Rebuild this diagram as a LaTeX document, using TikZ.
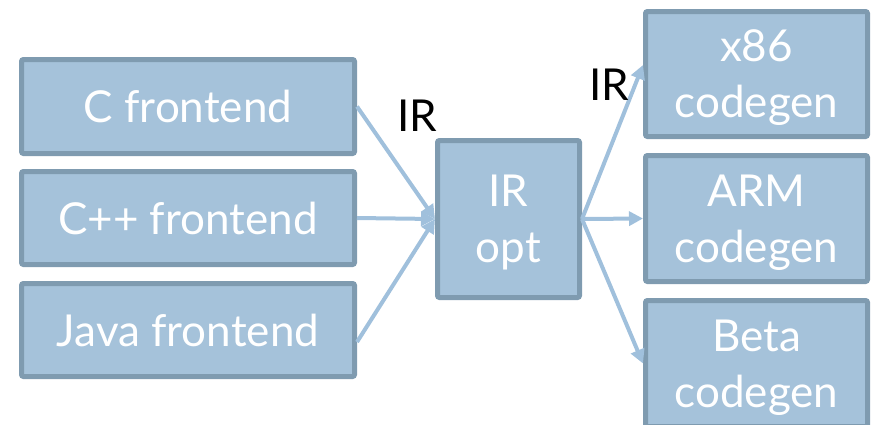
\documentclass[tikz,border=0pt]{standalone}
\usepackage{fontspec}
\setmainfont{Lato}
\usetikzlibrary{arrows.meta}
\definecolor{boxfill}{HTML}{A5C2DA}
\definecolor{boxline}{HTML}{7F9BB0}
\definecolor{flow}{HTML}{A0C0DC}
\tikzset{
  stage/.style={draw=boxline, fill=boxfill, line width=5pt, rounded corners=2pt,
    text=white, align=center, inner sep=0pt, text depth=-5pt,
    font=\fontsize{44}{56}\selectfont},
  flowline/.style={draw=flow, line width=4pt,
    -{Triangle[length=14pt,width=14pt]}},
  tag/.style={font=\fontsize{44}{52}\selectfont, text=black, inner sep=0pt}
}
\begin{document}
\begin{tikzpicture}[x=1pt,y=-1pt]
\useasboundingbox (0,0) rectangle (877,424);
\clip (0,0) rectangle (877,424);
% front ends
\node[stage, minimum width=333pt, minimum height=94pt] (cfe) at (188,106.5) {C frontend};
\node[stage, minimum width=333pt, minimum height=93pt] (cpp) at (188,218) {C++ frontend};
\node[stage, minimum width=333pt, minimum height=93pt] (java) at (188,330) {Java frontend};
% optimizer
\node[stage, minimum width=142pt, minimum height=157pt] (opt) at (508.5,219) {IR\\opt};
% back ends
\node[stage, minimum width=222pt, minimum height=125pt] (x86) at (756.5,74) {x86\\codegen};
\node[stage, minimum width=222pt, minimum height=126pt] (arm) at (756.5,218.5) {ARM\\codegen};
\node[stage, minimum width=222pt, minimum height=126pt] (beta) at (756.5,363.5) {Beta\\codegen};
% connectors
\draw[flowline] (cfe.east) -- (opt.west);
\draw[flowline] (cpp.east) -- (opt.west);
\draw[flowline] ([yshift=-12pt]java.east) -- (opt.west);
\draw[flowline] (opt.east) -- ([yshift=9pt]x86.west);
\draw[flowline] (opt.east) -- (arm.west);
\draw[flowline] (opt.east) -- (beta.west);
% edge labels
\node[tag] (ir1) at (417,116) {IR};
\node[tag] (ir2) at (609,85) {IR};
\end{tikzpicture}
\end{document}
